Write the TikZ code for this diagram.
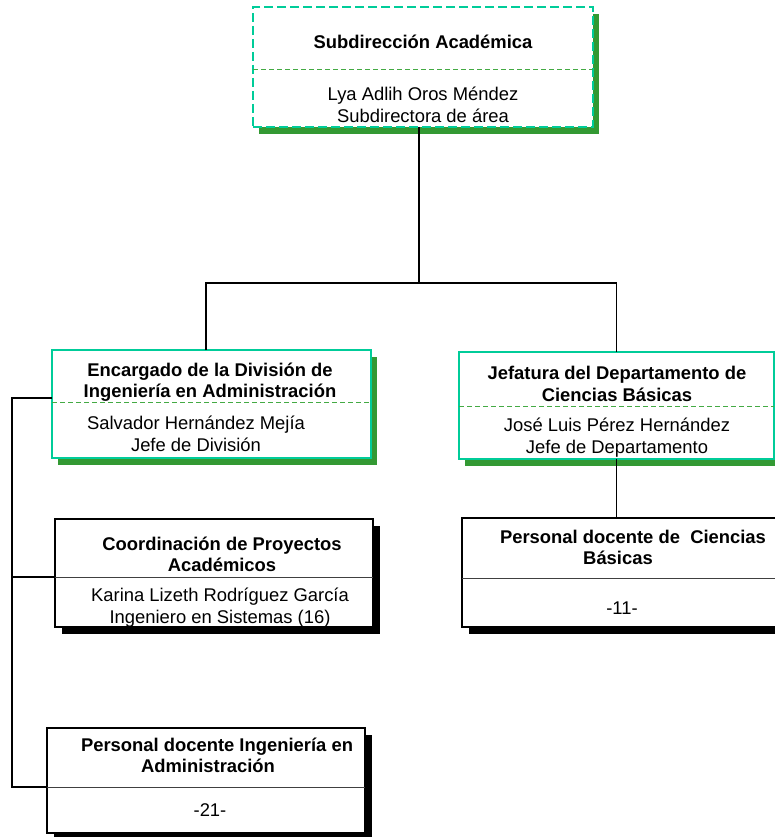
\documentclass[tikz,border=0pt]{standalone}
\usepackage{fontspec}
\setmainfont{Liberation Sans}
\usetikzlibrary{shadows}
\definecolor{tealb}{HTML}{00CC99}
\definecolor{gshadow}{HTML}{339933}
\definecolor{gsep}{HTML}{44AA44}
\tikzset{
  txt/.style={align=center, inner sep=0pt, font=\fontsize{18.4}{21.5}\selectfont},
  btxt/.style={align=center, inner sep=0pt, font=\fontsize{18.4}{21.5}\selectfont\bfseries},
  conn/.style={draw=black, line width=1.3pt},
  greenbox/.style={rectangle, outer sep=0pt, inner sep=0pt, fill=white, draw=tealb, line width=2.2pt,
    general shadow={fill=gshadow, shadow xshift=6pt, shadow yshift=-7pt}},
  dashbox/.style={greenbox, dash pattern=on 9pt off 4pt,
    preaction={draw=white, line width=2.2pt}},
  blackbox/.style={rectangle, outer sep=0pt, inner sep=0pt, fill=white, draw=black, line width=1.5pt,
    general shadow={fill=black, shadow xshift=7pt, shadow yshift=-7pt}},
  gsepline/.style={draw=gsep, line width=1pt, dash pattern=on 5pt off 3pt},
  bsepline/.style={draw=black!75, line width=1pt},
}
\begin{document}
\begin{tikzpicture}[x=1pt,y=-1pt]
\clip (0,0) rectangle (775,837);
\fill[white] (0,0) rectangle (775,837);

% boxes
\node[dashbox, minimum width=340pt, minimum height=120pt] (top) at (423,67) {};
\node[greenbox, minimum width=319pt, minimum height=108pt] (enc) at (211.5,404) {};
\node[greenbox, minimum width=315pt, minimum height=107pt] (jef) at (616.5,405.5) {};
\node[blackbox, minimum width=318pt, minimum height=108pt] (coord) at (214,573) {};
\node[blackbox, minimum width=328pt, minimum height=109pt] (pdcb) at (626,572.5) {};
\node[blackbox, minimum width=318pt, minimum height=105pt] (pdia) at (206,780.5) {};

% separators
\draw[gsepline] (top.west |- 0,70) -- (top.east |- 0,70);
\draw[gsepline] (enc.west |- 0,402) -- (enc.east |- 0,402);
\draw[gsepline] (jef.west |- 0,406) -- (jef.east |- 0,406);
\draw[bsepline] (coord.west |- 0,577) -- (coord.east |- 0,577);
\draw[bsepline] (pdcb.west |- 0,578) -- (pdcb.east |- 0,578);
\draw[bsepline] (pdia.west |- 0,787) -- (pdia.east |- 0,787);

% texts
\node[btxt] (topt) at (423,42) {Subdirección Académica};
\node[txt] (topn) at (423,105) {Lya Adlih Oros Méndez\\Subdirectora de área};
\node[btxt] (enct) at (210,382) {Encargado de la División de\\Ingeniería en Administración};
\node[txt] (encn) at (196,434) {Salvador Hernández Mejía\\Jefe de División};
\node[btxt] (jeft) at (617,384) {Jefatura del Departamento de\\Ciencias Básicas};
\node[txt] (jefn) at (617,437.5) {José Luis Pérez Hernández\\Jefe de Departamento};
\node[btxt] (coordt) at (222,554.5) {Coordinación de Proyectos\\Académicos};
\node[txt] (coordn) at (220,607.5) {Karina Lizeth Rodríguez García\\Ingeniero en Sistemas (16)};
\node[btxt] (pdcbt) at (633,547.5) {Personal docente de\ \ Ciencias\\\hspace*{-30pt}Básicas};
\node[txt] (pdcbn) at (622,608) {-11-};
\node[btxt] (pdiat) at (217,755.5) {Personal docente Ingeniería en\\\hspace*{-18pt}Administración};
\node[txt] (pdian) at (210,810) {-21-};

% connectors
\coordinate (j1) at (419,283);
\coordinate (jl) at (206,283);
\coordinate (lt) at (12,398);
\coordinate (lb) at (12,787);
\draw[conn] (top.south -| j1) -- (j1);
\draw[conn] (enc.north -| jl) -- (jl) -- (jl -| jef.north) -- (jef.north);
\draw[conn] (jef.south) -- (jef.south |- pdcb.north);
\draw[conn] (lt -| enc.west) -- (lt) -- (lb) -- (lb -| pdia.west);
\draw[conn] (coord.west |- 0,577) -- (lt |- 0,577);
\end{tikzpicture}
\end{document}
